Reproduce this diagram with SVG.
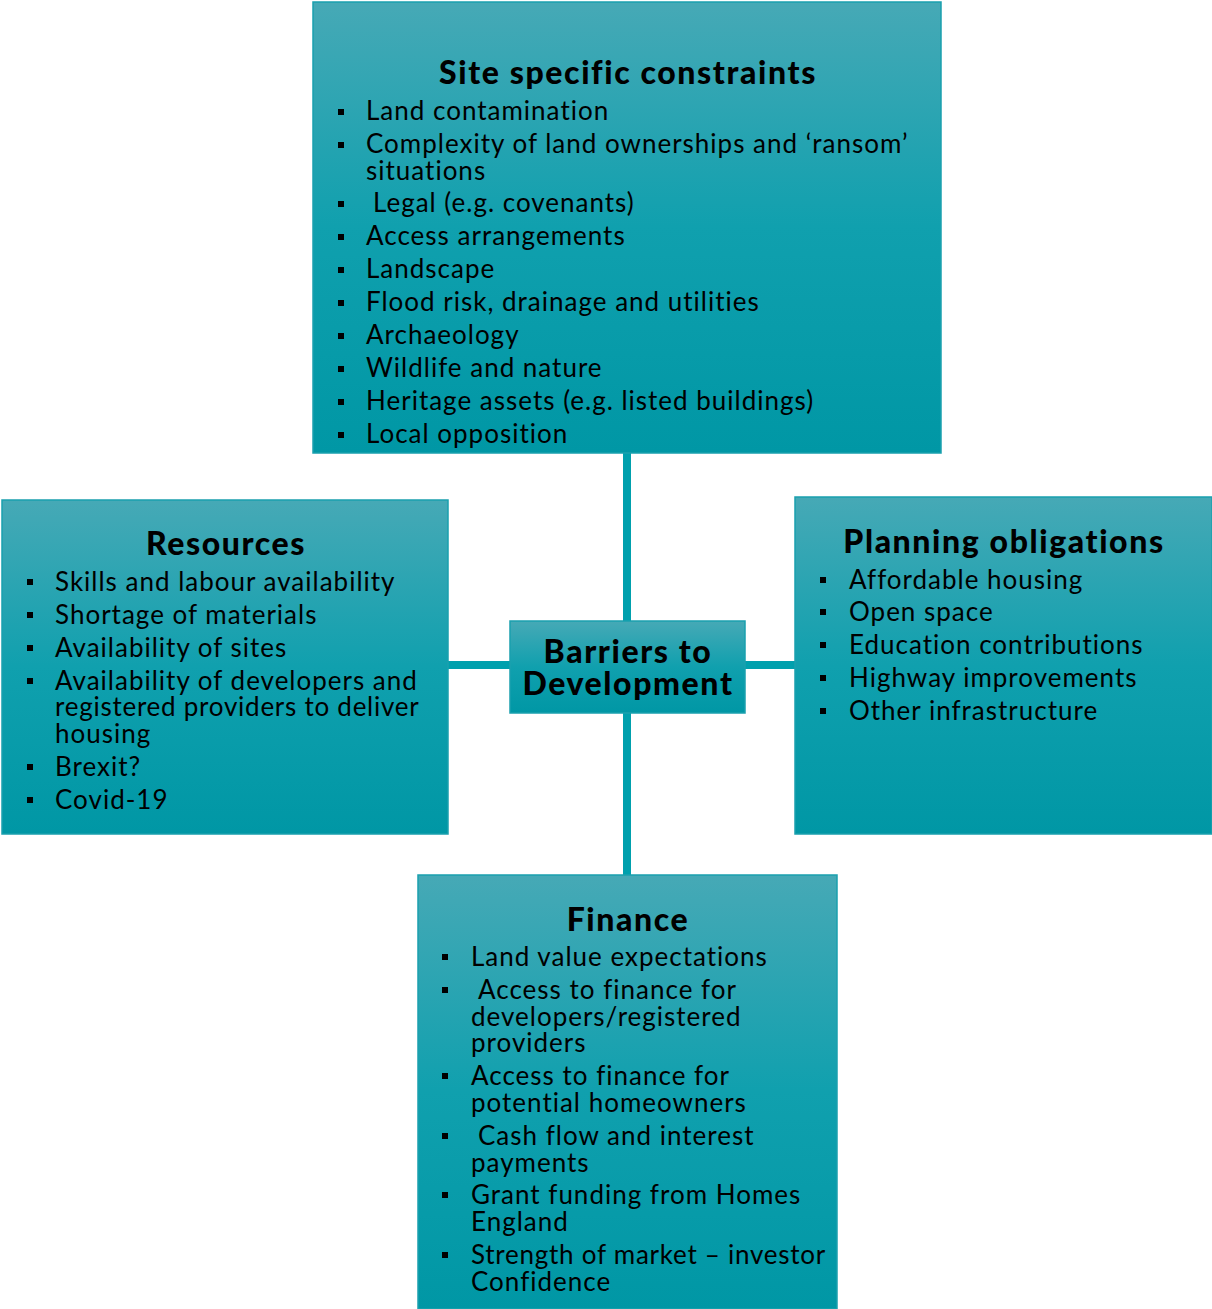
<svg xmlns="http://www.w3.org/2000/svg" width="1212" height="1309" viewBox="0 0 1212 1309">
<defs>
<linearGradient id="g" x1="0" y1="0" x2="0" y2="1">
<stop offset="0" stop-color="#46a9b6"/>
<stop offset="0.5" stop-color="#10a0ae"/>
<stop offset="1" stop-color="#0097a5"/>
</linearGradient>
<style>
.box{fill:url(#g);stroke:#1aa0ae;stroke-width:1.5}
.h{font-family:Lato,"Noto Sans",sans-serif;font-weight:900;font-size:32px;letter-spacing:1.6px;fill:#000;text-anchor:middle}
.t{font-family:Lato,"Noto Sans",sans-serif;font-size:26px;letter-spacing:1px;fill:#000}
.n{letter-spacing:0.75px}
.b{fill:#000}
.c{stroke:#00a0ad;stroke-width:8;fill:none}
</style>
</defs>
<g id="connectors">
<line class="c" x1="627" y1="453" x2="627" y2="621"/>
<line class="c" x1="627" y1="713" x2="627" y2="875"/>
<line class="c" x1="448" y1="665" x2="510" y2="665"/>
<line class="c" x1="745" y1="665" x2="795" y2="665"/>
</g>
<g id="site">
<rect class="box" x="313" y="2" width="628" height="451"/>
<text class="h" x="628" y="84">Site specific constraints</text>
<g class="b">
<rect x="338" y="109" width="6" height="6"/><rect x="338" y="142" width="6" height="6"/><rect x="338" y="201" width="6" height="6"/><rect x="338" y="234" width="6" height="6"/><rect x="338" y="267" width="6" height="6"/><rect x="338" y="300" width="6" height="6"/><rect x="338" y="333" width="6" height="6"/><rect x="338" y="366" width="6" height="6"/><rect x="338" y="399" width="6" height="6"/><rect x="338" y="432" width="6" height="6"/>
</g>
<text class="t" x="366" y="120">Land contamination</text>
<text class="t" x="366" y="153">Complexity of land ownerships and ‘ransom’</text>
<text class="t" x="366" y="180">situations</text>
<text class="t" x="373" y="212">Legal (e.g. covenants)</text>
<text class="t" x="366" y="245">Access arrangements</text>
<text class="t" x="366" y="278">Landscape</text>
<text class="t" x="366" y="311">Flood risk, drainage and utilities</text>
<text class="t" x="366" y="344">Archaeology</text>
<text class="t" x="366" y="377">Wildlife and nature</text>
<text class="t" x="366" y="410">Heritage assets (e.g. listed buildings)</text>
<text class="t" x="366" y="443">Local opposition</text>
</g>
<g id="resources">
<rect class="box" x="2" y="500" width="446" height="334"/>
<text class="h" x="226" y="555">Resources</text>
<g class="b">
<rect x="27" y="579" width="6" height="6"/><rect x="27" y="612" width="6" height="6"/><rect x="27" y="645" width="6" height="6"/><rect x="27" y="678" width="6" height="6"/><rect x="27" y="764" width="6" height="6"/><rect x="27" y="797" width="6" height="6"/>
</g>
<text class="t" x="55" y="591">Skills and labour availability</text>
<text class="t" x="55" y="624">Shortage of materials</text>
<text class="t" x="55" y="657">Availability of sites</text>
<text class="t" x="55" y="690">Availability of developers and</text>
<text class="t n" x="55" y="716">registered providers to deliver</text>
<text class="t" x="55" y="743">housing</text>
<text class="t" x="55" y="776">Brexit?</text>
<text class="t" x="55" y="809">Covid-19</text>
</g>
<g id="planning">
<rect class="box" x="795" y="497" width="417" height="337"/>
<text class="h" x="1004" y="553">Planning obligations</text>
<g class="b">
<rect x="820" y="577" width="6" height="6"/><rect x="820" y="609" width="6" height="6"/><rect x="820" y="642" width="6" height="6"/><rect x="820" y="675" width="6" height="6"/><rect x="820" y="708" width="6" height="6"/>
</g>
<text class="t" x="849" y="589">Affordable housing</text>
<text class="t" x="849" y="621">Open space</text>
<text class="t" x="849" y="654">Education contributions</text>
<text class="t" x="849" y="687">Highway improvements</text>
<text class="t" x="849" y="720">Other infrastructure</text>
</g>
<g id="finance">
<rect class="box" x="418" y="875" width="419" height="434"/>
<text class="h" x="628" y="931">Finance</text>
<g class="b">
<rect x="442" y="954" width="6" height="6"/><rect x="442" y="987" width="6" height="6"/><rect x="442" y="1073" width="6" height="6"/><rect x="442" y="1133" width="6" height="6"/><rect x="442" y="1192" width="6" height="6"/><rect x="442" y="1252" width="6" height="6"/>
</g>
<text class="t" x="471" y="966">Land value expectations</text>
<text class="t" x="478" y="999">Access to finance for</text>
<text class="t" x="471" y="1026">developers/registered</text>
<text class="t" x="471" y="1052">providers</text>
<text class="t" x="471" y="1085">Access to finance for</text>
<text class="t" x="471" y="1112">potential homeowners</text>
<text class="t" x="478" y="1145">Cash flow and interest</text>
<text class="t" x="471" y="1172">payments</text>
<text class="t" x="471" y="1204">Grant funding from Homes</text>
<text class="t" x="471" y="1231">England</text>
<text class="t n" x="471" y="1264">Strength of market – investor</text>
<text class="t" x="471" y="1291">Confidence</text>
</g>
<g id="center">
<rect class="box" x="510" y="621" width="235" height="92"/>
<text class="h" x="628" y="663">Barriers to</text>
<text class="h" x="628" y="695">Development</text>
</g>
</svg>
